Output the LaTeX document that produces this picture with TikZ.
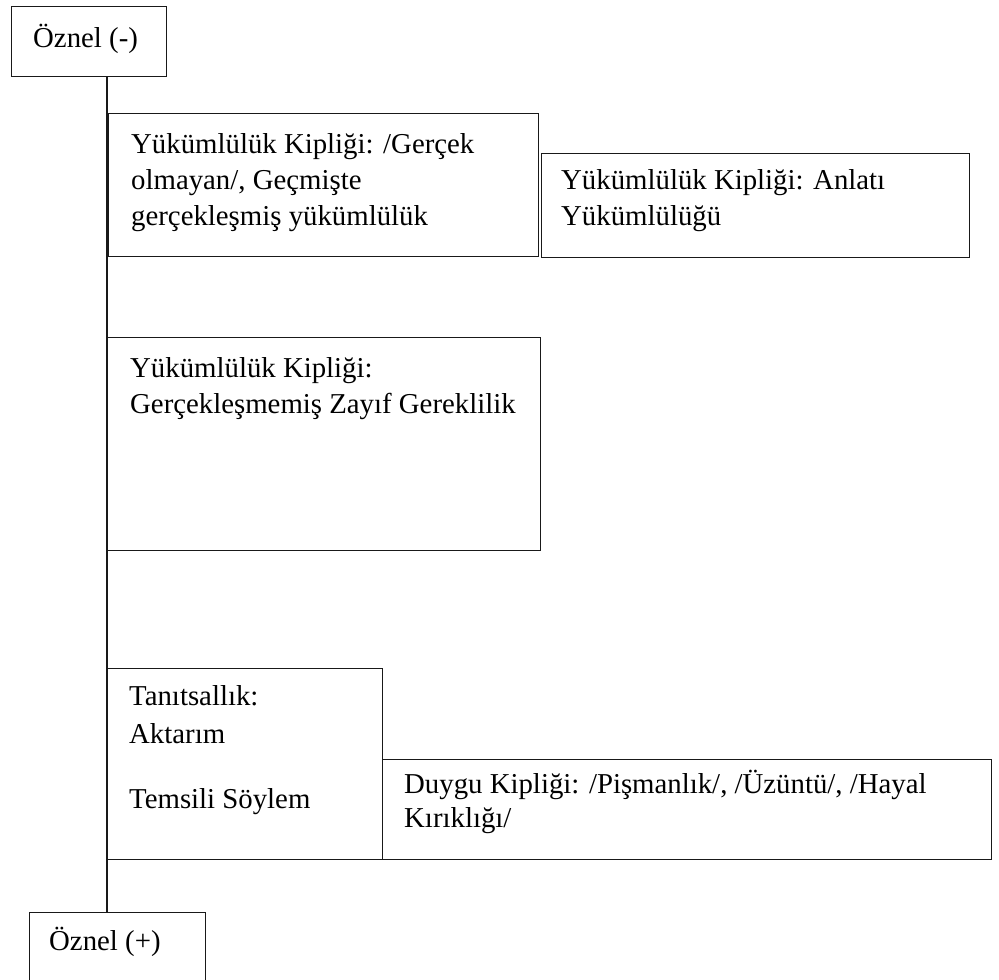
\documentclass[tikz,border=0pt]{standalone}
\usepackage{fontspec}
\setmainfont{Liberation Serif}
\usetikzlibrary{calc}
\tikzset{
  frame/.style={draw=black!90, line width=1.4pt, rectangle, anchor=north west,
                inner sep=0pt, minimum width=#1},
  lbl/.style={anchor=base west, inner sep=0pt, align=left,
              font=\fontsize{28.8}{36}\selectfont},
  spine/.style={draw=black!90, line width=1.4pt}
}
\begin{document}
\begin{tikzpicture}[x=1pt, y=-1pt]
  \useasboundingbox (0,0) rectangle (999,980);
  \clip (0,0) rectangle (999,980);

  % boxes (top-left corner, width, height)
  \node[frame=155, minimum height=70]  (neg)  at (11,6)    {};
  \node[frame=430, minimum height=143] (ob1)  at (108,113) {};
  \node[frame=428, minimum height=104] (ob2)  at (541,153) {};
  \node[frame=433, minimum height=213] (ob3)  at (107,337) {};
  \node[frame=275, minimum height=191] (evid) at (107,668) {};
  \node[frame=609, minimum height=100] (emo)  at (382,759) {};
  \node[frame=176, minimum height=80]  (pos)  at (29,912)  {};

  % vertical axis from Öznel (-) down to Öznel (+)
  \coordinate (axis) at (107,0);
  \draw[spine] (neg.south -| axis) -- (pos.north -| axis);

  % texts (multi-line labels are anchored at their last baseline)
  \node[lbl] (tneg) at ($(neg.north west)+(22,41)$) {Öznel (-)};
  \node[lbl] (t1) at ($(ob1.north west)+(23,112)$)
    {Yükümlülük Kipliği: /Gerçek\\olmayan/, Geçmişte\\gerçekleşmiş yükümlülük};
  \node[lbl] (t2) at ($(ob2.north west)+(20,72)$)
    {Yükümlülük Kipliği: Anlatı\\Yükümlülüğü};
  \node[lbl] (t3) at ($(ob3.north west)+(23,76)$)
    {Yükümlülük Kipliği:\\Gerçekleşmemiş Zayıf Gereklilik};
  \node[lbl] (t4a) at ($(evid.north west)+(22,75)$)
    {Tanıtsallık:\\[2pt]Aktarım};
  \node[lbl] (t4b) at ($(evid.north west)+(22,140)$) {Temsili Söylem};
  \node[lbl] (t5) at ($(emo.north west)+(22,68)$)
    {Duygu Kipliği: /Pişmanlık/, /Üzüntü/, /Hayal\\[-2pt]Kırıklığı/};
  \node[lbl] (tpos) at ($(pos.north west)+(20,38)$) {Öznel (+)};
\end{tikzpicture}
\end{document}
